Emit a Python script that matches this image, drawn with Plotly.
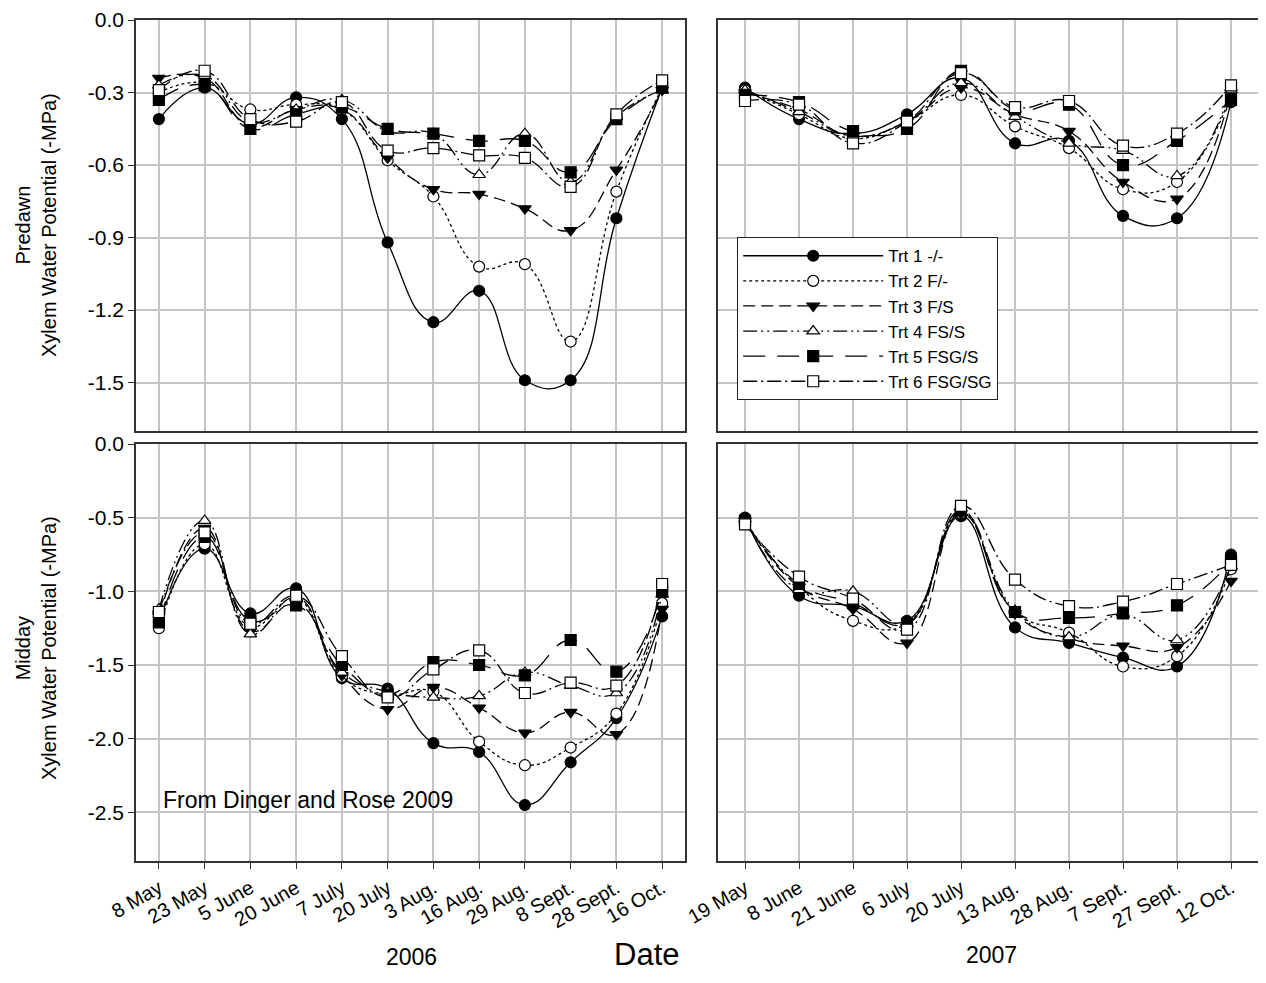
import plotly.graph_objects as go

dates_2006 = ["8 May", "23 May", "5 June", "20 June", "7 July", "20 July", "3 Aug.",
              "16 Aug.", "29 Aug.", "8 Sept.", "28 Sept.", "16 Oct."]
dates_2007 = ["19 May", "8 June", "21 June", "6 July", "20 July", "13 Aug.", "28 Aug.",
              "7 Sept.", "27 Sept.", "12 Oct."]

treatments = ["Trt 1 -/-", "Trt 2 F/-", "Trt 3 F/S", "Trt 4 FS/S", "Trt 5 FSG/S", "Trt 6 FSG/SG"]

predawn_ticks = [0.0, -0.3, -0.6, -0.9, -1.2, -1.5]
predawn_tick_text = ["0.0", "-0.3", "-0.6", "-0.9", "-1.2", "-1.5"]
midday_ticks = [0.0, -0.5, -1.0, -1.5, -2.0, -2.5]
midday_tick_text = ["0.0", "-0.5", "-1.0", "-1.5", "-2.0", "-2.5"]

# Predawn 2006
pd06_t1 = [-0.41, -0.28, -0.43, -0.32, -0.41, -0.92, -1.25, -1.12, -1.49, -1.49, -0.82, -0.28]
pd06_t2 = [-0.30, -0.26, -0.37, -0.35, -0.37, -0.58, -0.73, -1.02, -1.01, -1.33, -0.71, -0.28]
pd06_t3 = [-0.24, -0.24, -0.44, -0.37, -0.37, -0.57, -0.70, -0.72, -0.78, -0.87, -0.62, -0.29]
pd06_t4 = [-0.27, -0.23, -0.42, -0.37, -0.33, -0.46, -0.47, -0.64, -0.47, -0.67, -0.40, -0.29]
pd06_t5 = [-0.33, -0.27, -0.45, -0.39, -0.36, -0.45, -0.47, -0.50, -0.50, -0.63, -0.41, -0.28]
pd06_t6 = [-0.29, -0.21, -0.41, -0.42, -0.34, -0.54, -0.53, -0.56, -0.57, -0.69, -0.39, -0.25]

# Predawn 2007
pd07_t1 = [-0.28, -0.41, -0.47, -0.39, -0.24, -0.51, -0.50, -0.81, -0.82, -0.34]
pd07_t2 = [-0.29, -0.39, -0.49, -0.42, -0.31, -0.44, -0.53, -0.70, -0.67, -0.31]
pd07_t3 = [-0.30, -0.37, -0.48, -0.42, -0.28, -0.39, -0.46, -0.67, -0.74, -0.30]
pd07_t4 = [-0.29, -0.38, -0.48, -0.42, -0.26, -0.40, -0.51, -0.54, -0.645, -0.29]
pd07_t5 = [-0.31, -0.34, -0.46, -0.45, -0.21, -0.37, -0.35, -0.60, -0.50, -0.33]
pd07_t6 = [-0.335, -0.35, -0.51, -0.42, -0.22, -0.36, -0.335, -0.52, -0.47, -0.27]

# Midday 2006
md06_t1 = [-1.21, -0.71, -1.15, -0.98, -1.59, -1.66, -2.03, -2.09, -2.45, -2.16, -1.86, -1.17]
md06_t2 = [-1.25, -0.68, -1.24, -1.05, -1.58, -1.70, -1.68, -2.02, -2.18, -2.06, -1.83, -1.08]
md06_t3 = [-1.17, -0.57, -1.27, -1.08, -1.57, -1.80, -1.65, -1.79, -1.96, -1.82, -1.97, -1.12]
md06_t4 = [-1.12, -0.52, -1.29, -1.04, -1.55, -1.68, -1.72, -1.71, -1.55, -1.64, -1.69, -1.02]
md06_t5 = [-1.21, -0.63, -1.20, -1.095, -1.50, -1.70, -1.48, -1.50, -1.57, -1.33, -1.545, -1.00]
md06_t6 = [-1.14, -0.60, -1.22, -1.03, -1.44, -1.72, -1.53, -1.40, -1.69, -1.62, -1.64, -0.95]

# Midday 2007
md07_t1 = [-0.50, -1.03, -1.10, -1.20, -0.49, -1.245, -1.35, -1.45, -1.51, -0.75]
md07_t2 = [-0.52, -0.97, -1.20, -1.22, -0.47, -1.14, -1.28, -1.51, -1.44, -0.85]
md07_t3 = [-0.52, -0.97, -1.12, -1.35, -0.47, -1.15, -1.32, -1.37, -1.38, -0.93]
md07_t4 = [-0.51, -0.99, -1.00, -1.22, -0.46, -1.13, -1.31, -1.16, -1.33, -0.83]
md07_t5 = [-0.52, -0.95, -1.08, -1.22, -0.45, -1.14, -1.18, -1.15, -1.095, -0.80]
md07_t6 = [-0.545, -0.90, -1.05, -1.26, -0.42, -0.92, -1.10, -1.07, -0.95, -0.82]

styles = [
    dict(symbol="circle", fill="black", dash="solid"),
    dict(symbol="circle", fill="white", dash="dot"),
    dict(symbol="triangle-down", fill="black", dash="12px,6px"),
    dict(symbol="triangle-up", fill="white", dash="14px,4px,2px,4px,2px,4px"),
    dict(symbol="square", fill="black", dash="22px,12px"),
    dict(symbol="square", fill="white", dash="14px,4px,2px,4px"),
]

panels = [
    ("x", "y", dates_2006, [pd06_t1, pd06_t2, pd06_t3, pd06_t4, pd06_t5, pd06_t6], True),
    ("x2", "y2", dates_2007, [pd07_t1, pd07_t2, pd07_t3, pd07_t4, pd07_t5, pd07_t6], False),
    ("x3", "y3", dates_2006, [md06_t1, md06_t2, md06_t3, md06_t4, md06_t5, md06_t6], False),
    ("x4", "y4", dates_2007, [md07_t1, md07_t2, md07_t3, md07_t4, md07_t5, md07_t6], False),
]

fig = go.Figure()
for xa, ya, cats, series, show in panels:
    for name, vals, st in zip(treatments, series, styles):
        fig.add_trace(go.Scatter(
            x=cats, y=vals, xaxis=xa, yaxis=ya, name=name, legendgroup=name,
            showlegend=show, mode="lines+markers",
            line=dict(color="black", width=1.3, shape="spline", smoothing=1.3, dash=st["dash"]),
            marker=dict(symbol=st["symbol"], size=11, color=st["fill"],
                        line=dict(color="black", width=1.2)),
        ))

# page has an 8px body margin; figure sized to fit the 1266x983 window
OFF = 8
W, H = 1266 - 2 * OFF, 983 - 2 * OFF


def px(X):
    return (X - OFF) / W


def py(Y):
    return 1 - (Y - OFF) / H


lx = [px(136), px(685)]
rx = [px(718), 1.0]
ty = [py(431), py(20)]
by = [py(861), py(444)]

grid = "#c4c4c6"
font = "Liberation Sans, Arial, sans-serif"
common_x = dict(type="category", showgrid=True, gridcolor=grid, gridwidth=1.5,
                showline=True, linecolor="#333", linewidth=1.5, mirror=True, zeroline=False,
                tickfont=dict(family=font, size=20, color="black"))
common_y = dict(showgrid=True, gridcolor=grid, gridwidth=1.5, showline=True,
                linecolor="#333", linewidth=1.5, mirror=True, zeroline=False,
                tickfont=dict(family=font, size=21, color="black"))

fig.update_layout(
    width=W, height=H, margin=dict(l=0, r=0, t=0, b=0, autoexpand=False),
    paper_bgcolor="white", plot_bgcolor="white",
    font=dict(family=font, color="black"),
    xaxis=dict(common_x, domain=lx, range=[-0.5, 11.5], anchor="y", showticklabels=False,
               categoryorder="array", categoryarray=dates_2006),
    xaxis2=dict(common_x, domain=rx, range=[-0.5, 9.5], anchor="y2", showticklabels=False,
                categoryorder="array", categoryarray=dates_2007),
    xaxis3=dict(common_x, domain=lx, range=[-0.5, 11.5], anchor="y3", tickangle=-30,
                ticks="outside", ticklen=6, tickcolor="#333",
                categoryorder="array", categoryarray=dates_2006),
    xaxis4=dict(common_x, domain=rx, range=[-0.5, 9.5], anchor="y4", tickangle=-30,
                ticks="outside", ticklen=6, tickcolor="#333",
                categoryorder="array", categoryarray=dates_2007),
    yaxis=dict(common_y, domain=ty, range=[-1.7, 0], anchor="x",
               tickvals=predawn_ticks, ticktext=predawn_tick_text,
               ticks="outside", ticklen=6, tickcolor="#333"),
    yaxis2=dict(common_y, domain=ty, range=[-1.7, 0], anchor="x2",
                tickvals=predawn_ticks, showticklabels=False),
    yaxis3=dict(common_y, domain=by, range=[-2.83, 0], anchor="x3",
                tickvals=midday_ticks, ticktext=midday_tick_text,
                ticks="outside", ticklen=6, tickcolor="#333"),
    yaxis4=dict(common_y, domain=by, range=[-2.83, 0], anchor="x4",
                tickvals=midday_ticks, showticklabels=False),
    legend=dict(x=px(737), y=py(237), xanchor="left", yanchor="top",
                bgcolor="white", bordercolor="#222", borderwidth=1.2,
                font=dict(family=font, size=17, color="black"),
                itemwidth=140, tracegroupgap=0),
    annotations=[
        dict(text="Predawn<br>Xylem Water Potential (-MPa)", textangle=-90, x=px(36), y=py(225),
             xanchor="center", yanchor="middle",
             xref="paper", yref="paper", showarrow=False, font=dict(size=20, family=font)),
        dict(text="Midday<br>Xylem Water Potential (-MPa)", textangle=-90, x=px(36), y=py(648),
             xanchor="center", yanchor="middle",
             xref="paper", yref="paper", showarrow=False, font=dict(size=20, family=font)),
        dict(text="From Dinger and Rose 2009", x=px(161), y=py(800), xanchor="left", yanchor="middle",
             xref="paper", yref="paper", showarrow=False, font=dict(size=23, family=font)),
        dict(text="2006", x=px(411), y=py(957), xanchor="center", yanchor="middle",
             xref="paper", yref="paper", showarrow=False, font=dict(size=23, family=font)),
        dict(text="2007", x=px(991), y=py(955), xanchor="center", yanchor="middle",
             xref="paper", yref="paper", showarrow=False, font=dict(size=23, family=font)),
        dict(text="Date", x=px(646), y=py(974), xanchor="center", yanchor="bottom",
             xref="paper", yref="paper", showarrow=False, font=dict(size=31, family=font)),
    ],
)

fig.write_html("out.html")
